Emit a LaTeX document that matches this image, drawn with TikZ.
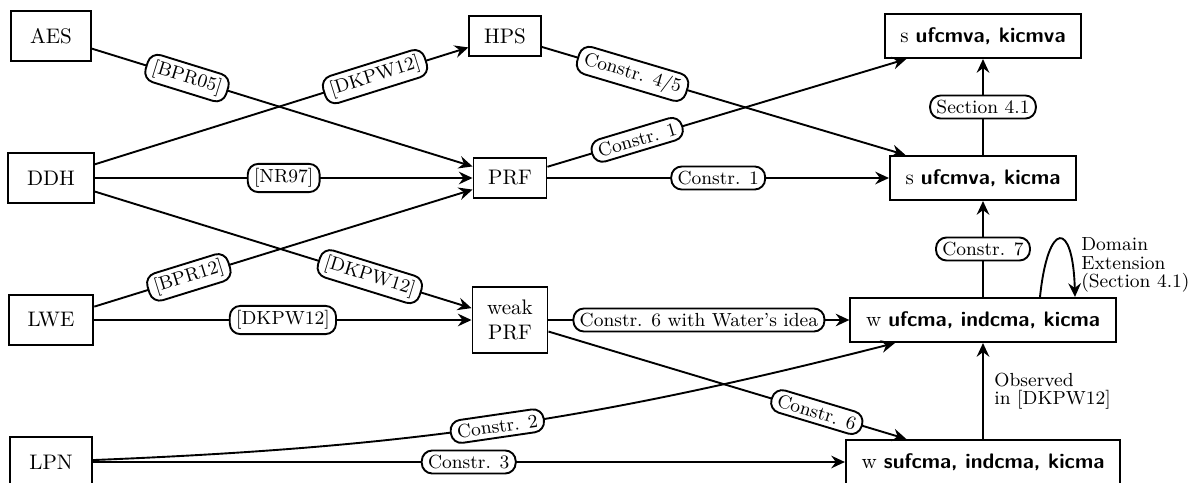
\documentclass[tikz,border=0pt]{standalone}
\usetikzlibrary{arrows.meta,calc}
\newcommand{\notion}[1]{\textsf{\textbf{#1}}}
\begin{document}
\begin{tikzpicture}[x=0.475pt,y=-0.475pt,
  >={Stealth[length=6.5pt,width=6pt,inset=2.2pt]},
  box/.style={draw, line width=0.9pt, align=center},
  src/.style={box, inner xsep=9pt, minimum height=23.5pt},
  mid/.style={box, inner xsep=7pt, minimum height=19pt},
  goal/.style={box, inner xsep=7.5pt, minimum height=21pt},
  lab/.style={draw, fill=white, rounded corners=5pt, font=\small,
              inner xsep=3pt, inner ysep=2.2pt, line width=0.9pt},
  arr/.style={->, line width=0.9pt},
  note/.style={font=\small\linespread{0.8}\selectfont, align=left, inner sep=2pt}]
\useasboundingbox (0,0) rectangle (1190,482);

% assumptions
\node[src] (aes) at (51,36)  {AES};
\node[src] (ddh) at (51,178) {DDH};
\node[src] (lwe) at (51,320) {LWE};
\node[src] (lpn) at (51,462) {LPN};

% primitives
\node[mid] (hps) at (505,36)  {HPS};
\node[mid] (prf) at (510,178) {PRF};
\node[mid, inner ysep=6pt] (wprf) at (510,320) {weak\\PRF};

% MAC notions
\node[goal] (r1) at (983,36)  {s \notion{ufcmva, kicmva}};
\node[goal] (r2) at (983,178) {s \notion{ufcmva, kicma}};
\node[goal] (r3) at (983,320) {w \notion{ufcma, indcma, kicma}};
\node[goal] (r4) at (983,462) {w \notion{sufcma, indcma, kicma}};

% reductions
\draw[arr] (aes) -- node[lab,sloped,pos=.25] {[BPR05]} (prf);
\draw[arr] (ddh) -- node[lab,sloped,pos=.75] {[DKPW12]} (hps);
\draw[arr] (ddh) -- node[lab] {[NR97]} (prf);
\draw[arr] (ddh) -- node[lab,sloped,pos=.73] {[DKPW12]} (wprf);
\draw[arr] (lwe) -- node[lab,sloped,pos=.25] {[BPR12]} (prf);
\draw[arr] (lwe) -- node[lab] {[DKPW12]} (wprf);
\draw[arr] (hps) -- node[lab,sloped,pos=.25] {Constr. 4/5} (r2);
\draw[arr] (prf) -- node[lab,sloped,pos=.25] {Constr. 1} (r1);
\draw[arr] (prf) -- node[lab] {Constr. 1} (r2);
\draw[arr] (r2) -- node[lab] {Section 4.1} (r1);
\draw[arr] (wprf) -- node[lab] {Constr. 6 with Water's idea} (r3);
\draw[arr] (wprf) -- node[lab,sloped,pos=.75] {Constr. 6} (r4);
\draw[arr] (lpn) to[bend right=6] node[lab,sloped,pos=.5] {Constr. 2} (r3);
\draw[arr] (lpn) -- node[lab] {Constr. 3} (r4);
\draw[arr] (r3) -- node[lab] {Constr. 7} (r2);
\draw[arr] (r4) -- node[note,right=3pt] {Observed\\in [DKPW12]} (r3);

% domain extension loop
\draw[arr] ($(r3.north)+(57,0)$) .. controls +(8,-77) and +(-2,-77) .. ($(r3.north)+(92,0)$);
\node[note,anchor=west] (dom) at ($(r3.north east)+(-40,-32)$) {Domain\\Extension\\(Section 4.1)};
\end{tikzpicture}
\end{document}
